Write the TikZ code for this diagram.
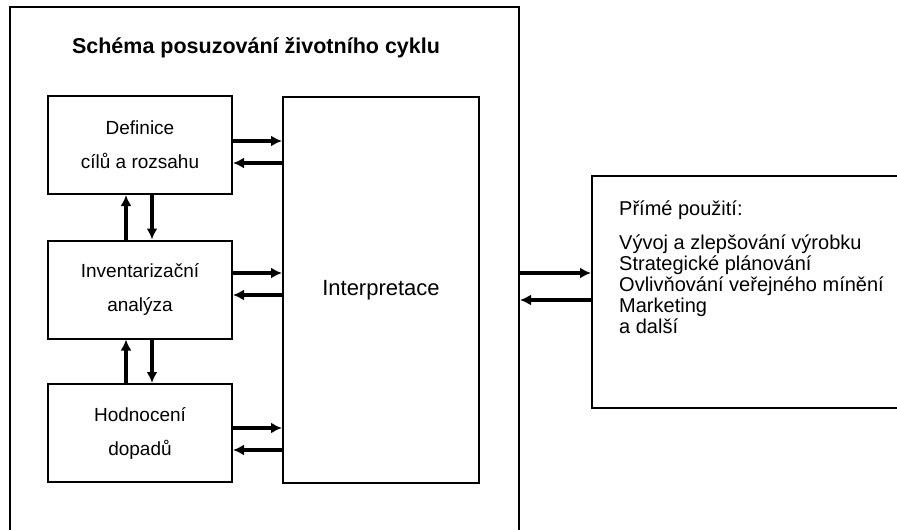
\documentclass[tikz,border=0pt]{standalone}
\usepackage{fontspec}
\setmainfont{Liberation Sans}
\usetikzlibrary{arrows.meta}

\begin{document}
\begin{tikzpicture}[x=1pt,y=-1pt]
		\tikzset{box/.style={draw, line width=2pt, minimum width=184pt, minimum height=98pt, align=center, font=\fontsize{19}{34}\selectfont},
			flow/.style={-{Latex[length=11pt,width=11pt]}, line width=3.2pt}};
		\useasboundingbox (0,0) rectangle (897,530);
		\clip (0,0) rectangle (897,530);
		\node[draw, line width=2pt, minimum width=509pt, minimum height=540pt] (frame) at (264.5,277) {};
		\node[font=\fontsize{21.5}{24}\selectfont\bfseries] (title) at (256,48) {Schéma posuzování životního cyklu};
		\node[box] (def) at (140,145) {Definice\\cílů a rozsahu};
		\node[box] (inv) at (140,289.5) {Inventarizační\\analýza};
		\node[box] (hod) at (140,433) {Hodnocení\\dopadů};
		\node[draw, line width=2pt, minimum width=196pt, minimum height=386pt, font=\fontsize{22}{24}\selectfont] (interp) at (381,290) {Interpretace};
		\foreach \b/\r/\l in {def/4/-18, inv/16.5/-5.5, hod/5/-17}{
			\draw[flow] ([yshift=\r pt]\b.east) -- ([yshift=\r pt]\b.east -| interp.west);
			\draw[flow] ([yshift=\l pt]\b.east -| interp.west) -- ([yshift=\l pt]\b.east);
		}
		\foreach \a/\b in {def/inv, inv/hod}{
			\draw[flow] ([xshift=-14pt]\b.north) -- ([xshift=-14pt]\a.south);
			\draw[flow] ([xshift=12pt]\a.south) -- ([xshift=12pt]\b.north);
		}
		% prime use box on the right
		\node[draw, line width=2pt, minimum width=318pt, minimum height=232pt] (use) at (751,292) {};
		\draw[flow] ([yshift=19pt]use.west -| frame.east) -- ([yshift=19pt]use.west);
		\draw[flow] ([yshift=-8pt]use.west) -- ([yshift=-8pt]use.west -| frame.east);
		\node[anchor=north west, align=left, inner sep=0pt, font=\fontsize{20}{21}\selectfont] (uselist) at ([xshift=28pt,yshift=-26pt]use.north west) {Přímé použití:\\[13pt]Vývoj a zlepšování výrobku\\Strategické plánování\\Ovlivňování veřejného mínění\\Marketing\\a další};
	\end{tikzpicture}
\end{document}
